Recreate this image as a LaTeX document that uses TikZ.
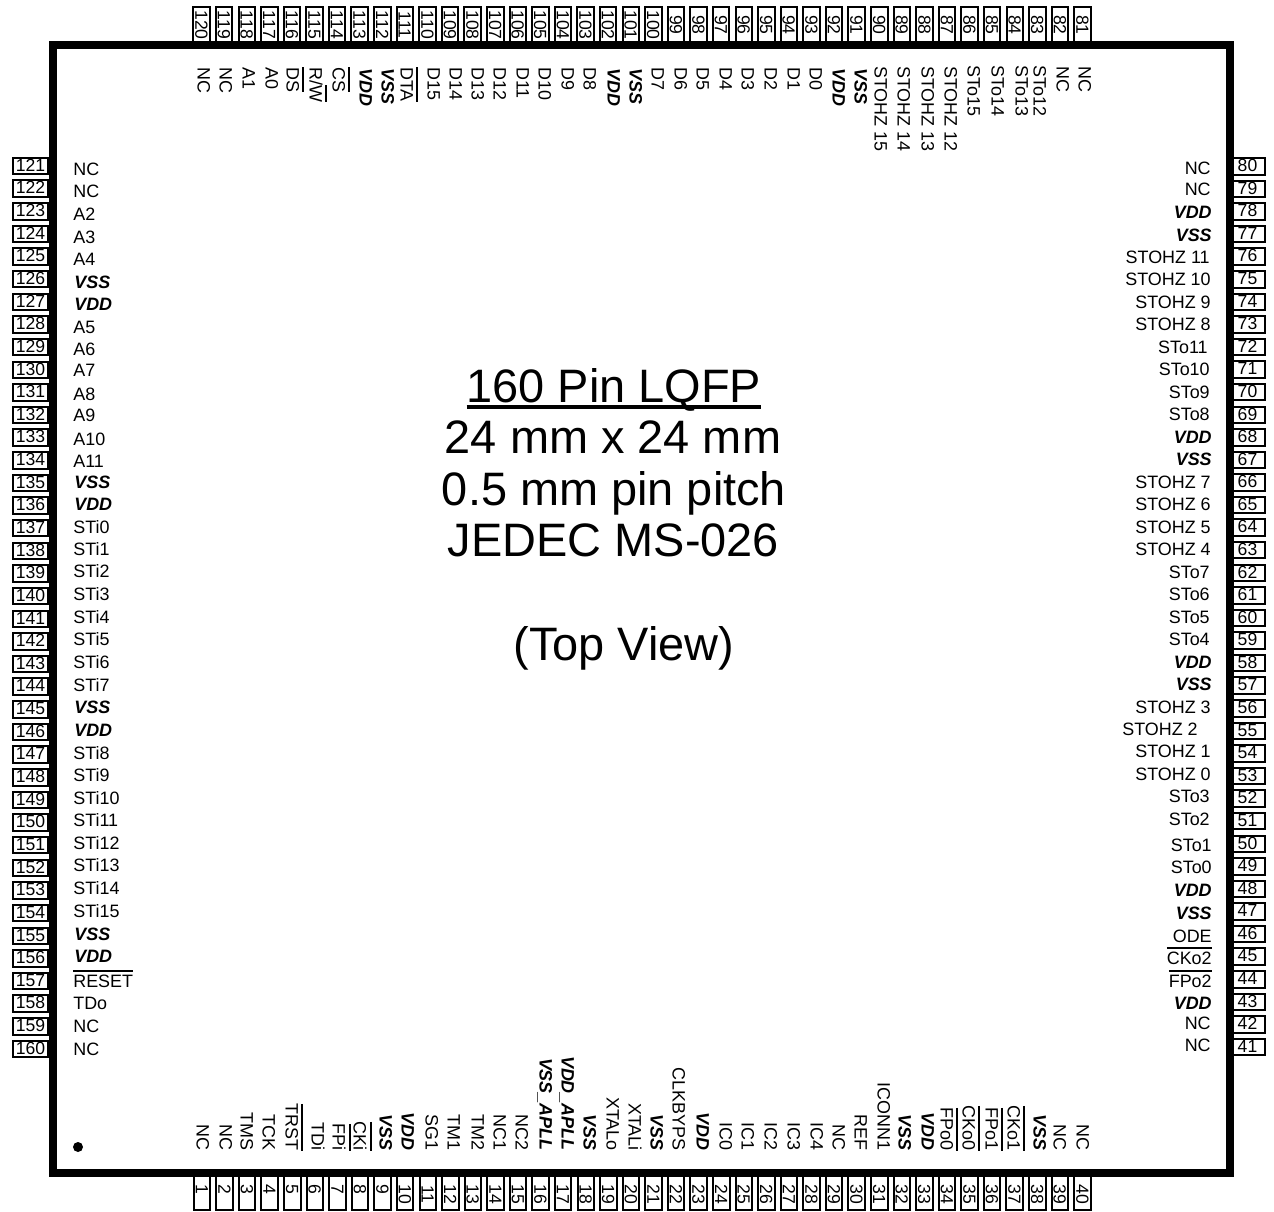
\documentclass[tikz,border=0pt]{standalone}
\usepackage{fontspec}
\usepackage{tikz}
\setmainfont{Liberation Sans}
\newcommand{\sigfont}{\fontsize{10.2}{12}\selectfont}
\newcommand{\numfont}{\fontsize{10}{12}\selectfont}
\newcommand{\bigfont}{\fontsize{26.7}{30}\selectfont}
\newcommand{\pwr}[1]{{\bfseries\itshape #1}}
\newcommand{\barred}[1]{\vbox{\hrule height 1pt \kern 1.9pt \hbox{#1}}}
\newcommand{\undered}[1]{\vtop{\hbox{\smash{#1}}\kern 1.3pt\hrule height 2pt}}

\begin{document}
\begin{tikzpicture}[x=0.02cm,y=0.02cm]
\tikzstyle{every node}+=[inner sep=0pt]
\tikzstyle{pinh}=[draw=black,line width=0.04cm,minimum width=0.7cm,minimum height=0.33cm,font=\numfont,text height=7.1pt,text depth=1.1pt]
\tikzstyle{pinv}=[pinh,rotate=-90,text depth=0pt]
\tikzstyle{pinbot}=[pinv,execute at begin node={\kern 3pt}]
\tikzstyle{sigh}=[font=\sigfont,text height=7.3pt,text depth=0pt]
\tikzstyle{sigl}=[sigh,anchor=west]
\tikzstyle{sigr}=[sigh,anchor=east]
\tikzstyle{sigt}=[sigh,xshift=0.02cm,rotate=-90,anchor=west]
\tikzstyle{sigb}=[sigh,xshift=0.02cm,rotate=-90,anchor=east]
\tikzstyle{titletext}=[font=\bigfont,anchor=base]
\useasboundingbox (0,0) rectangle (1274,-1212);
\node [pinbot] (p1) at (202,-1192) {1\phantom{0}}; \node [sigb] (s1) at (202,-1151) {NC};
\node [pinbot] (p2) at (224.6,-1192) {2\phantom{0}}; \node [sigb] (s2) at (225,-1151) {NC};
\node [pinbot] (p3) at (247.2,-1192) {3\phantom{0}}; \node [sigb] (s3) at (246,-1151) {TMS};
\node [pinbot] (p4) at (269.7,-1192) {4\phantom{0}}; \node [sigb] (s4) at (268,-1151) {TCK};
\node [pinbot] (p5) at (292.3,-1192) {5\phantom{0}}; \node [sigb] (s5) at (291,-1151) {\barred{TRST}};
\node [pinbot] (p6) at (314.9,-1192) {6\phantom{0}}; \node [sigb] (s6) at (317,-1151) {TDi};
\node [pinbot] (p7) at (337.5,-1192) {7\phantom{0}}; \node [sigb] (s7) at (338,-1151) {\barred{FPi}};
\node [pinbot] (p8) at (360,-1192) {8\phantom{0}}; \node [sigb] (s8) at (359,-1151) {\barred{CKi}};
\node [pinbot] (p9) at (382.6,-1192) {9\phantom{0}}; \node [sigb] (s9) at (385,-1151) {\pwr{VSS}};
\node [pinbot] (p10) at (405.2,-1192) {10}; \node [sigb] (s10) at (407,-1151) {\pwr{VDD}};
\node [pinbot] (p11) at (427.8,-1192) {11}; \node [sigb] (s11) at (431,-1151) {SG1};
\node [pinbot] (p12) at (450.3,-1192) {12}; \node [sigb] (s12) at (453,-1151) {TM1};
\node [pinbot] (p13) at (472.9,-1192) {13}; \node [sigb] (s13) at (477,-1151) {TM2};
\node [pinbot] (p14) at (495.5,-1192) {14}; \node [sigb] (s14) at (499,-1151) {NC1};
\node [pinbot] (p15) at (518.1,-1192) {15}; \node [sigb] (s15) at (521,-1151) {NC2};
\node [pinbot] (p16) at (540.7,-1192) {16}; \node [sigb] (s16) at (545,-1151) {\pwr{VSS\_APLL}};
\node [pinbot] (p17) at (563.2,-1192) {17}; \node [sigb] (s17) at (567,-1151) {\pwr{VDD\_APLL}};
\node [pinbot] (p18) at (585.8,-1192) {18}; \node [sigb] (s18) at (589,-1151) {\pwr{VSS}};
\node [pinbot] (p19) at (608.4,-1192) {19}; \node [sigb] (s19) at (612,-1151) {XTALo};
\node [pinbot] (p20) at (631,-1192) {20}; \node [sigb] (s20) at (634,-1151) {XTALi};
\node [pinbot] (p21) at (653.5,-1192) {21}; \node [sigb] (s21) at (656,-1151) {\pwr{VSS}};
\node [pinbot] (p22) at (676.1,-1192) {22}; \node [sigb] (s22) at (678,-1151) {CLKBYPS};
\node [pinbot] (p23) at (698.7,-1192) {23}; \node [sigb] (s23) at (702,-1151) {\pwr{VDD}};
\node [pinbot] (p24) at (721.3,-1192) {24}; \node [sigb] (s24) at (725,-1151) {IC0};
\node [pinbot] (p25) at (743.8,-1192) {25}; \node [sigb] (s25) at (747,-1151) {IC1};
\node [pinbot] (p26) at (766.4,-1192) {26}; \node [sigb] (s26) at (770,-1151) {IC2};
\node [pinbot] (p27) at (789,-1192) {27}; \node [sigb] (s27) at (793,-1151) {IC3};
\node [pinbot] (p28) at (811.6,-1192) {28}; \node [sigb] (s28) at (816,-1151) {IC4};
\node [pinbot] (p29) at (834.1,-1192) {29}; \node [sigb] (s29) at (838,-1151) {NC};
\node [pinbot] (p30) at (856.7,-1192) {30}; \node [sigb] (s30) at (860,-1151) {REF};
\node [pinbot] (p31) at (879.3,-1192) {31}; \node [sigb] (s31) at (883,-1151) {ICONN1};
\node [pinbot] (p32) at (901.9,-1192) {32}; \node [sigb] (s32) at (904,-1151) {\pwr{VSS}};
\node [pinbot] (p33) at (924.4,-1192) {33}; \node [sigb] (s33) at (927,-1151) {\pwr{VDD}};
\node [pinbot] (p34) at (947,-1192) {34}; \node [sigb] (s34) at (946,-1151) {\barred{FPo0}};
\node [pinbot] (p35) at (969.6,-1192) {35}; \node [sigb] (s35) at (968,-1151) {\barred{CKo0}};
\node [pinbot] (p36) at (992.2,-1192) {36}; \node [sigb] (s36) at (991,-1151) {\barred{FPo1}};
\node [pinbot] (p37) at (1014.7,-1192) {37}; \node [sigb] (s37) at (1013,-1151) {\barred{CKo1}};
\node [pinbot] (p38) at (1037.3,-1192) {38}; \node [sigb] (s38) at (1039,-1151) {\pwr{VSS}};
\node [pinbot] (p39) at (1059.9,-1192) {39}; \node [sigb] (s39) at (1059,-1151) {NC};
\node [pinbot] (p40) at (1082.5,-1192) {40}; \node [sigb] (s40) at (1082,-1151) {NC};
\node [pinh] (p41) at (1247.5,-1047) {41}; \node [sigr] (s41) at (1211,-1045) {NC};
\node [pinh] (p42) at (1247.5,-1024.4) {42}; \node [sigr] (s42) at (1211,-1023) {NC};
\node [pinh] (p43) at (1247.5,-1001.8) {43}; \node [sigr] (s43) at (1212,-1003) {\pwr{VDD}};
\node [pinh] (p44) at (1247.5,-979.3) {44}; \node [sigr] (s44) at (1212,-981) {\barred{FPo2}};
\node [pinh] (p45) at (1247.5,-956.7) {45}; \node [sigr] (s45) at (1212,-958) {\barred{CKo2}};
\node [pinh] (p46) at (1247.5,-934.1) {46}; \node [sigr] (s46) at (1212,-936) {ODE};
\node [pinh] (p47) at (1247.5,-911.5) {47}; \node [sigr] (s47) at (1212,-913) {\pwr{VSS}};
\node [pinh] (p48) at (1247.5,-888.9) {48}; \node [sigr] (s48) at (1212,-890) {\pwr{VDD}};
\node [pinh] (p49) at (1247.5,-866.4) {49}; \node [sigr] (s49) at (1212,-867) {STo0};
\node [pinh] (p50) at (1247.5,-843.8) {50}; \node [sigr] (s50) at (1212,-845) {STo1};
\node [pinh] (p51) at (1247.5,-821.2) {51}; \node [sigr] (s51) at (1210,-819) {STo2};
\node [pinh] (p52) at (1247.5,-798.6) {52}; \node [sigr] (s52) at (1210,-796) {STo3};
\node [pinh] (p53) at (1247.5,-776) {53}; \node [sigr] (s53) at (1211,-774) {STOHZ 0};
\node [pinh] (p54) at (1247.5,-753.5) {54}; \node [sigr] (s54) at (1211,-751) {STOHZ 1};
\node [pinh] (p55) at (1247.5,-730.9) {55}; \node [sigr] (s55) at (1198,-729) {STOHZ 2};
\node [pinh] (p56) at (1247.5,-708.3) {56}; \node [sigr] (s56) at (1211,-707) {STOHZ 3};
\node [pinh] (p57) at (1247.5,-685.7) {57}; \node [sigr] (s57) at (1212,-684) {\pwr{VSS}};
\node [pinh] (p58) at (1247.5,-663.1) {58}; \node [sigr] (s58) at (1212,-662) {\pwr{VDD}};
\node [pinh] (p59) at (1247.5,-640.6) {59}; \node [sigr] (s59) at (1210,-639) {STo4};
\node [pinh] (p60) at (1247.5,-618) {60}; \node [sigr] (s60) at (1210,-617) {STo5};
\node [pinh] (p61) at (1247.5,-595.4) {61}; \node [sigr] (s61) at (1210,-594) {STo6};
\node [pinh] (p62) at (1247.5,-572.8) {62}; \node [sigr] (s62) at (1210,-572) {STo7};
\node [pinh] (p63) at (1247.5,-550.2) {63}; \node [sigr] (s63) at (1211,-549) {STOHZ 4};
\node [pinh] (p64) at (1247.5,-527.7) {64}; \node [sigr] (s64) at (1211,-527) {STOHZ 5};
\node [pinh] (p65) at (1247.5,-505.1) {65}; \node [sigr] (s65) at (1211,-504) {STOHZ 6};
\node [pinh] (p66) at (1247.5,-482.5) {66}; \node [sigr] (s66) at (1211,-482) {STOHZ 7};
\node [pinh] (p67) at (1247.5,-459.9) {67}; \node [sigr] (s67) at (1212,-459) {\pwr{VSS}};
\node [pinh] (p68) at (1247.5,-437.3) {68}; \node [sigr] (s68) at (1212,-437) {\pwr{VDD}};
\node [pinh] (p69) at (1247.5,-414.8) {69}; \node [sigr] (s69) at (1210,-414) {STo8};
\node [pinh] (p70) at (1247.5,-392.2) {70}; \node [sigr] (s70) at (1210,-392) {STo9};
\node [pinh] (p71) at (1247.5,-369.6) {71}; \node [sigr] (s71) at (1210,-369) {STo10};
\node [pinh] (p72) at (1247.5,-347) {72}; \node [sigr] (s72) at (1208,-347) {STo11};
\node [pinh] (p73) at (1247.5,-324.4) {73}; \node [sigr] (s73) at (1211,-324) {STOHZ 8};
\node [pinh] (p74) at (1247.5,-301.9) {74}; \node [sigr] (s74) at (1211,-302) {STOHZ 9};
\node [pinh] (p75) at (1247.5,-279.3) {75}; \node [sigr] (s75) at (1211,-279) {STOHZ 10};
\node [pinh] (p76) at (1247.5,-256.7) {76}; \node [sigr] (s76) at (1210,-257) {STOHZ 11};
\node [pinh] (p77) at (1247.5,-234.1) {77}; \node [sigr] (s77) at (1212,-235) {\pwr{VSS}};
\node [pinh] (p78) at (1247.5,-211.5) {78}; \node [sigr] (s78) at (1212,-212) {\pwr{VDD}};
\node [pinh] (p79) at (1247.5,-189) {79}; \node [sigr] (s79) at (1211,-189) {NC};
\node [pinh] (p80) at (1247.5,-166.4) {80}; \node [sigr] (s80) at (1211,-168) {NC};
\node [pinv] (p81) at (1082.6,-25) {81}; \node [sigt] (s81) at (1084,-66) {NC};
\node [pinv] (p82) at (1060,-25) {82}; \node [sigt] (s82) at (1062,-66) {NC};
\node [pinv] (p83) at (1037.4,-25) {83}; \node [sigt] (s83) at (1039,-65) {STo12};
\node [pinv] (p84) at (1014.8,-25) {84}; \node [sigt] (s84) at (1021,-65) {STo13};
\node [pinv] (p85) at (992.2,-25) {85}; \node [sigt] (s85) at (997,-65) {STo14};
\node [pinv] (p86) at (969.7,-25) {86}; \node [sigt] (s86) at (973,-65) {STo15};
\node [pinv] (p87) at (947.1,-25) {87}; \node [sigt] (s87) at (950,-66) {STOHZ 12};
\node [pinv] (p88) at (924.5,-25) {88}; \node [sigt] (s88) at (927,-66) {STOHZ 13};
\node [pinv] (p89) at (901.9,-25) {89}; \node [sigt] (s89) at (903,-66) {STOHZ 14};
\node [pinv] (p90) at (879.3,-25) {90}; \node [sigt] (s90) at (880,-66) {STOHZ 15};
\node [pinv] (p91) at (856.7,-25) {91}; \node [sigt] (s91) at (860,-68) {\pwr{VSS}};
\node [pinv] (p92) at (834.1,-25) {92}; \node [sigt] (s92) at (838,-68) {\pwr{VDD}};
\node [pinv] (p93) at (811.5,-25) {93}; \node [sigt] (s93) at (815,-67) {D0};
\node [pinv] (p94) at (788.9,-25) {94}; \node [sigt] (s94) at (793,-67) {D1};
\node [pinv] (p95) at (766.3,-25) {95}; \node [sigt] (s95) at (770,-67) {D2};
\node [pinv] (p96) at (743.8,-25) {96}; \node [sigt] (s96) at (747,-67) {D3};
\node [pinv] (p97) at (721.2,-25) {97}; \node [sigt] (s97) at (725,-67) {D4};
\node [pinv] (p98) at (698.6,-25) {98}; \node [sigt] (s98) at (702,-67) {D5};
\node [pinv] (p99) at (676,-25) {99}; \node [sigt] (s99) at (680,-67) {D6};
\node [pinv] (p100) at (653.4,-25) {100}; \node [sigt] (s100) at (657,-67) {D7};
\node [pinv] (p101) at (630.8,-25) {101}; \node [sigt] (s101) at (635,-68) {\pwr{VSS}};
\node [pinv] (p102) at (608.2,-25) {102}; \node [sigt] (s102) at (613,-68) {\pwr{VDD}};
\node [pinv] (p103) at (585.6,-25) {103}; \node [sigt] (s103) at (589,-67) {D8};
\node [pinv] (p104) at (563,-25) {104}; \node [sigt] (s104) at (567,-67) {D9};
\node [pinv] (p105) at (540.4,-25) {105}; \node [sigt] (s105) at (544,-67) {D10};
\node [pinv] (p106) at (517.9,-25) {106}; \node [sigt] (s106) at (522,-67) {D11};
\node [pinv] (p107) at (495.3,-25) {107}; \node [sigt] (s107) at (499,-67) {D12};
\node [pinv] (p108) at (472.7,-25) {108}; \node [sigt] (s108) at (477,-67) {D13};
\node [pinv] (p109) at (450.1,-25) {109}; \node [sigt] (s109) at (455,-67) {D14};
\node [pinv] (p110) at (427.5,-25) {110}; \node [sigt] (s110) at (433,-67) {D15};
\node [pinv] (p111) at (404.9,-25) {111}; \node [sigt] (s111) at (406,-67) {\barred{DTA}};
\node [pinv] (p112) at (382.3,-25) {112}; \node [sigt] (s112) at (387,-68) {\pwr{VSS}};
\node [pinv] (p113) at (359.7,-25) {113}; \node [sigt] (s113) at (365,-68) {\pwr{VDD}};
\node [pinv] (p114) at (337.1,-25) {114}; \node [sigt] (s114) at (338,-67) {\barred{CS}};
\node [pinv] (p115) at (314.5,-25) {115}; \node [sigt] (s115) at (315,-67) {R/\barred{W}};
\node [pinv] (p116) at (292,-25) {116}; \node [sigt] (s116) at (292,-67) {\barred{DS}};
\node [pinv] (p117) at (269.4,-25) {117}; \node [sigt] (s117) at (271,-67) {A0};
\node [pinv] (p118) at (246.8,-25) {118}; \node [sigt] (s118) at (248,-67) {A1};
\node [pinv] (p119) at (224.2,-25) {119}; \node [sigt] (s119) at (225,-67) {NC};
\node [pinv] (p120) at (201.6,-25) {120}; \node [sigt] (s120) at (203,-67) {NC};
\node [pinh] (p121) at (30.5,-166) {121}; \node [sigl] (s121) at (73,-169) {NC};
\node [pinh] (p122) at (30.5,-188.6) {122}; \node [sigl] (s122) at (73,-191) {NC};
\node [pinh] (p123) at (30.5,-211.3) {123}; \node [sigl] (s123) at (73,-214) {A2};
\node [pinh] (p124) at (30.5,-233.9) {124}; \node [sigl] (s124) at (73,-237) {A3};
\node [pinh] (p125) at (30.5,-256.6) {125}; \node [sigl] (s125) at (73,-259) {A4};
\node [pinh] (p126) at (30.5,-279.2) {126}; \node [sigl] (s126) at (74,-282) {\pwr{VSS}};
\node [pinh] (p127) at (30.5,-301.8) {127}; \node [sigl] (s127) at (74,-304) {\pwr{VDD}};
\node [pinh] (p128) at (30.5,-324.5) {128}; \node [sigl] (s128) at (73,-327) {A5};
\node [pinh] (p129) at (30.5,-347.1) {129}; \node [sigl] (s129) at (73,-349) {A6};
\node [pinh] (p130) at (30.5,-369.8) {130}; \node [sigl] (s130) at (73,-370) {A7};
\node [pinh] (p131) at (30.5,-392.4) {131}; \node [sigl] (s131) at (73,-394) {A8};
\node [pinh] (p132) at (30.5,-415) {132}; \node [sigl] (s132) at (73,-415) {A9};
\node [pinh] (p133) at (30.5,-437.7) {133}; \node [sigl] (s133) at (73,-439) {A10};
\node [pinh] (p134) at (30.5,-460.3) {134}; \node [sigl] (s134) at (73,-461) {A11};
\node [pinh] (p135) at (30.5,-483) {135}; \node [sigl] (s135) at (74,-482) {\pwr{VSS}};
\node [pinh] (p136) at (30.5,-505.6) {136}; \node [sigl] (s136) at (74,-504) {\pwr{VDD}};
\node [pinh] (p137) at (30.5,-528.2) {137}; \node [sigl] (s137) at (73,-527) {STi0};
\node [pinh] (p138) at (30.5,-550.9) {138}; \node [sigl] (s138) at (73,-549) {STi1};
\node [pinh] (p139) at (30.5,-573.5) {139}; \node [sigl] (s139) at (73,-571) {STi2};
\node [pinh] (p140) at (30.5,-596.2) {140}; \node [sigl] (s140) at (73,-594) {STi3};
\node [pinh] (p141) at (30.5,-618.8) {141}; \node [sigl] (s141) at (73,-617) {STi4};
\node [pinh] (p142) at (30.5,-641.4) {142}; \node [sigl] (s142) at (73,-639) {STi5};
\node [pinh] (p143) at (30.5,-664.1) {143}; \node [sigl] (s143) at (73,-662) {STi6};
\node [pinh] (p144) at (30.5,-686.7) {144}; \node [sigl] (s144) at (73,-685) {STi7};
\node [pinh] (p145) at (30.5,-709.4) {145}; \node [sigl] (s145) at (74,-707) {\pwr{VSS}};
\node [pinh] (p146) at (30.5,-732) {146}; \node [sigl] (s146) at (74,-730) {\pwr{VDD}};
\node [pinh] (p147) at (30.5,-754.6) {147}; \node [sigl] (s147) at (73,-753) {STi8};
\node [pinh] (p148) at (30.5,-777.3) {148}; \node [sigl] (s148) at (73,-775) {STi9};
\node [pinh] (p149) at (30.5,-799.9) {149}; \node [sigl] (s149) at (73,-798) {STi10};
\node [pinh] (p150) at (30.5,-822.6) {150}; \node [sigl] (s150) at (73,-820) {STi11};
\node [pinh] (p151) at (30.5,-845.2) {151}; \node [sigl] (s151) at (73,-843) {STi12};
\node [pinh] (p152) at (30.5,-867.8) {152}; \node [sigl] (s152) at (73,-865) {STi13};
\node [pinh] (p153) at (30.5,-890.5) {153}; \node [sigl] (s153) at (73,-888) {STi14};
\node [pinh] (p154) at (30.5,-913.1) {154}; \node [sigl] (s154) at (73,-911) {STi15};
\node [pinh] (p155) at (30.5,-935.8) {155}; \node [sigl] (s155) at (74,-934) {\pwr{VSS}};
\node [pinh] (p156) at (30.5,-958.4) {156}; \node [sigl] (s156) at (74,-956) {\pwr{VDD}};
\node [pinh] (p157) at (30.5,-981) {157}; \node [sigl] (s157) at (73,-981) {\barred{RESET}};
\node [pinh] (p158) at (30.5,-1003.7) {158}; \node [sigl] (s158) at (73,-1003) {TDo};
\node [pinh] (p159) at (30.5,-1026.3) {159}; \node [sigl] (s159) at (73,-1026) {NC};
\node [pinh] (p160) at (30.5,-1049) {160}; \node [sigl] (s160) at (73,-1049) {NC};
\draw [black,line width=0.16cm] (53,-45) rectangle (1230,-1173);
\node [circle,fill=black,minimum size=0.2cm] (dot) at (78,-1147) {};
\node [titletext] (line1) at (614,-403) {\undered{160 Pin LQFP}};
\node [titletext] (line2) at (613,-454) {24 mm x 24 mm};
\node [titletext] (line3) at (614,-506) {0.5 mm pin pitch};
\node [titletext] (line4) at (613.5,-557) {JEDEC MS-026};
\node [titletext] (line5) at (624,-660) {(Top View)};
\end{tikzpicture}
\end{document}
